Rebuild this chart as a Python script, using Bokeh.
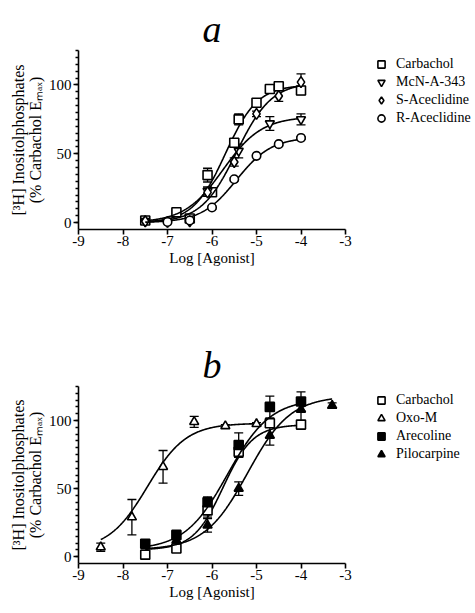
import numpy as np
from bokeh.plotting import figure
from bokeh.models import (ColumnDataSource, Whisker, TeeHead, Legend, LegendItem,
                          FixedTicker, Range1d)
from bokeh.layouts import column
from bokeh.embed import file_html
from bokeh.resources import INLINE

FONT = "Liberation Serif"

x_ticks = [-9, -8, -7, -6, -5, -4, -3]
x_tick_labels = ["-9", "-8", "-7", "-6", "-5", "-4", "-3"]
y_ticks = [0, 50, 100]
y_tick_labels = ["0", "50", "100"]
y_minor = list(range(0, 130, 5))

x_label = "Log [Agonist]"
y_label = "[\u00b3H] Inositolphosphates\n(% Carbachol E\u2098\u2090\u2093)"

# ---------- panel a ----------
carb_a_x = [-7.5, -6.8, -6.5, -6.1, -6.0, -5.5, -5.4, -5.0, -4.7, -4.5, -4.0]
carb_a_y = [1.5, 7.5, 3.0, 34.5, 22.0, 58.0, 75.0, 87.0, 97.0, 99.0, 96.0]
carb_a_err = [1.0, 1.0, 1.0, 5.0, 3.0, 2.0, 4.0, 2.0, 2.0, 1.0, 3.0]
carb_a_fit = [0.0, 100.0, -5.7, 1.2]
carb_a_span = [-7.5, -4.0]

mcn_x = [-7.5, -7.0, -6.5, -6.1, -5.4, -4.7, -4.0]
mcn_y = [1.0, 0.5, 1.5, 23.0, 52.0, 72.0, 75.0]
mcn_err = [0.5, 0.5, 0.5, 3.0, 5.0, 5.0, 4.0]
mcn_fit = [0.0, 77.0, -5.75, 1.0]
mcn_span = [-7.5, -4.0]

sace_x = [-7.5, -7.0, -6.5, -6.1, -5.5, -5.0, -4.5, -4.0]
sace_y = [1.0, 0.5, 1.0, 22.0, 44.0, 79.0, 92.0, 102.0]
sace_err = [0.5, 0.5, 0.5, 3.0, 3.0, 2.0, 4.0, 6.0]
sace_fit = [0.0, 102.0, -5.45, 1.1]
sace_span = [-7.5, -4.0]

race_x = [-7.0, -6.5, -6.0, -5.5, -5.0, -4.5, -4.0]
race_y = [0.5, 1.5, 11.0, 31.5, 48.5, 57.0, 61.5]
race_err = [0.5, 0.5, 1.0, 1.0, 1.0, 1.0, 1.0]
race_fit = [0.0, 62.0, -5.45, 1.1]
race_span = [-7.5, -4.0]

# ---------- panel b ----------
carb_b_x = [-7.5, -6.8, -6.1, -5.4, -4.7, -4.0]
carb_b_y = [1.5, 6.0, 34.0, 77.0, 98.0, 97.0]
carb_b_err = [1.0, 1.5, 5.0, 4.0, 3.0, 1.0]
carb_b_fit = [5.0, 97.0, -5.75, 1.3]
carb_b_span = [-7.5, -4.0]

oxo_x = [-8.5, -7.8, -7.1, -6.4, -5.7, -5.0]
oxo_y = [7.0, 29.0, 66.0, 99.0, 96.0, 97.5]
oxo_err = [3.0, 13.0, 12.0, 4.0, 1.0, 1.0]
oxo_fit = [5.0, 98.0, -7.45, 1.0]
oxo_span = [-8.5, -5.0]

are_x = [-7.5, -6.8, -6.1, -5.4, -4.7, -4.0]
are_y = [9.5, 16.0, 40.0, 82.0, 110.0, 114.0]
are_err = [2.0, 3.0, 4.0, 9.0, 8.0, 7.0]
are_fit = [5.0, 116.0, -5.65, 0.9]
are_span = [-7.5, -4.0]

pilo_x = [-6.8, -6.1, -5.4, -4.7, -4.0, -3.3]
pilo_y = [12.0, 23.0, 50.0, 89.0, 108.0, 111.0]
pilo_err = [2.0, 5.0, 5.0, 7.0, 8.0, 2.0]
pilo_fit = [5.0, 118.0, -5.2, 0.9]
pilo_span = [-7.5, -3.3]

marker_sizes = {"square": 9, "diamond": 11, "circle": 8.5,
                "triangle": 9, "inverted_triangle": 9}


def sigmoid(xs, fit):
    bottom, top, ec50, hill = fit
    return bottom + (top - bottom) / (1.0 + 10.0 ** ((ec50 - xs) * hill))


def make_panel(title, series, border_top, border_bottom, frame_h):
    p = figure(frame_width=267, frame_height=frame_h,
               x_range=Range1d(-9, -3), y_range=Range1d(-5, 125),
               output_backend="svg", toolbar_location=None,
               min_border_left=78, min_border_right=121,
               min_border_top=border_top, min_border_bottom=border_bottom,
               title=title)
    p.outline_line_color = None
    p.grid.visible = False
    p.background_fill_color = "white"
    p.border_fill_color = "white"

    p.title.align = "center"
    p.title.text_font = FONT
    p.title.text_font_style = "italic"
    p.title.text_font_size = "38px"
    p.title.text_color = "black"
    p.title.standoff = 2

    xa = p.xaxis[0]
    xa.ticker = FixedTicker(ticks=x_ticks, minor_ticks=[])
    xa.major_label_overrides = dict(zip(x_ticks, x_tick_labels))
    ya = p.yaxis[0]
    ya.ticker = FixedTicker(ticks=y_ticks, minor_ticks=y_minor)
    ya.major_label_overrides = dict(zip(y_ticks, y_tick_labels))
    for ax in (xa, ya):
        ax.axis_line_color = "black"
        ax.axis_line_width = 1.6
        ax.major_tick_line_color = "black"
        ax.major_tick_line_width = 1.6
        ax.minor_tick_line_color = "black"
        ax.minor_tick_line_width = 1.3
        ax.major_tick_in = 0
        ax.major_tick_out = 5
        ax.minor_tick_in = 0
        ax.minor_tick_out = 3
        ax.major_label_text_font = FONT
        ax.major_label_text_font_size = "15px"
        ax.major_label_text_color = "black"
        ax.axis_label_text_font = FONT
        ax.axis_label_text_font_style = "normal"
        ax.axis_label_text_font_size = "15px"
        ax.axis_label_text_color = "black"
    xa.axis_label = x_label
    xa.major_label_standoff = 1
    xa.axis_label_standoff = 1
    ya.axis_label = y_label
    ya.axis_label_text_font_size = "16px"
    ya.axis_label_text_line_height = 1.0
    ya.major_label_standoff = 2
    ya.axis_label_standoff = 2

    items = []
    for name, xs, ys, err, fit, span, marker, fill in series:
        xc = np.linspace(span[0], span[1], 300)
        p.line(xc, sigmoid(xc, fit), line_color="black", line_width=1.6)
        src = ColumnDataSource(dict(x=xs, lo=[a - b for a, b in zip(ys, err)],
                                    hi=[a + b for a, b in zip(ys, err)]))
        w = Whisker(source=src, base="x", lower="lo", upper="hi", dimension="height",
                    line_color="black", line_width=1.3,
                    upper_head=TeeHead(size=9, line_color="black", line_width=1.3),
                    lower_head=TeeHead(size=9, line_color="black", line_width=1.3))
        p.add_layout(w)
        r = p.scatter(xs, ys, marker=marker, size=marker_sizes[marker],
                      line_color="black", line_width=1.6,
                      fill_color="black" if fill else "white")
        items.append(LegendItem(label=name, renderers=[r]))

    legend = Legend(items=items, location=(26, frame_h - 5 - 72))
    legend.border_line_color = None
    legend.background_fill_alpha = 0
    legend.label_text_font = FONT
    legend.label_text_font_size = "14px"
    legend.label_text_color = "black"
    legend.glyph_width = 20
    legend.glyph_height = 18
    legend.label_height = 18
    legend.spacing = 0
    legend.padding = 0
    legend.margin = 0
    legend.label_standoff = 5
    p.add_layout(legend, "right")
    return p


series_a = [
    ("Carbachol", carb_a_x, carb_a_y, carb_a_err, carb_a_fit, carb_a_span, "square", False),
    ("McN-A-343", mcn_x, mcn_y, mcn_err, mcn_fit, mcn_span, "inverted_triangle", False),
    ("S-Aceclidine", sace_x, sace_y, sace_err, sace_fit, sace_span, "diamond", False),
    ("R-Aceclidine", race_x, race_y, race_err, race_fit, race_span, "circle", False),
]
series_b = [
    ("Carbachol", carb_b_x, carb_b_y, carb_b_err, carb_b_fit, carb_b_span, "square", False),
    ("Oxo-M", oxo_x, oxo_y, oxo_err, oxo_fit, oxo_span, "triangle", False),
    ("Arecoline", are_x, are_y, are_err, are_fit, are_span, "square", True),
    ("Pilocarpine", pilo_x, pilo_y, pilo_err, pilo_fit, pilo_span, "triangle", True),
]

pa = make_panel("a", series_a, 50, 79, 179)
pb = make_panel("b", series_b, 78, 44, 177)

layout = column(pa, pb, spacing=0)
open("out.html", "w").write(file_html(layout, INLINE))
